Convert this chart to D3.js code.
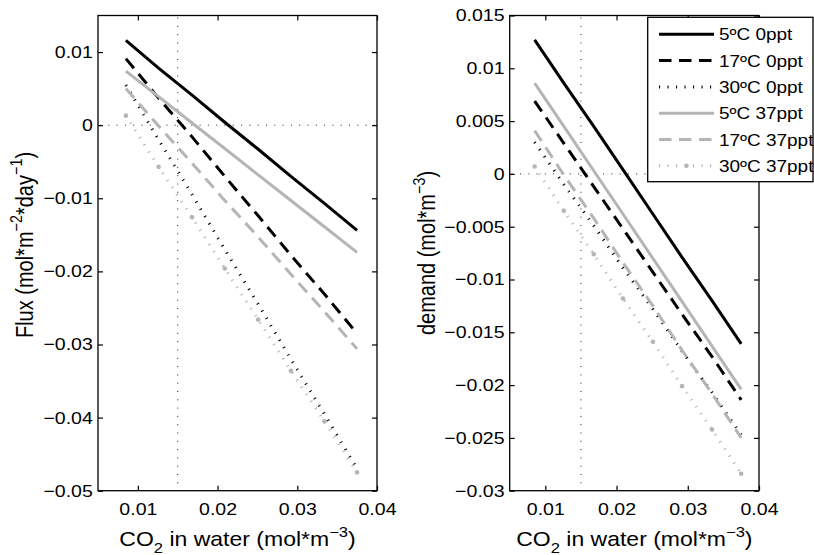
<!DOCTYPE html>
<html>
<head>
<meta charset="utf-8">
<script src="https://cdn.jsdelivr.net/npm/d3@7"></script>
<style>
  body { margin: 0; background: #fff; }
  text { font-family: "Liberation Sans", Arial, Helvetica, sans-serif; fill: #000; }
</style>
</head>
<body>
<svg id="chart" width="814" height="555"></svg>
<script>
// CO2 concentration in water (mol*m^-3) at which each case was evaluated
const co2Water = [0.0085, 0.0126, 0.0168, 0.0209, 0.0251, 0.0292, 0.0334, 0.0375];

const caseNames = ["5ºC 0ppt", "17ºC 0ppt", "30ºC 0ppt", "5ºC 37ppt", "17ºC 37ppt", "30ºC 37ppt"];

// Air-water CO2 flux (mol*m^-2*day^-1)
const flux5C0ppt   = [0.0116, 0.0078, 0.0041, 0.0004, -0.0033, -0.0070, -0.0107, -0.0144];
const flux17C0ppt  = [0.0091, 0.0037, -0.0016, -0.0070, -0.0124, -0.0178, -0.0231, -0.0285];
const flux30C0ppt  = [0.0055, -0.0020, -0.0095, -0.0170, -0.0245, -0.0320, -0.0395, -0.0470];
const flux5C37ppt  = [0.0074, 0.0039, 0.0003, -0.0032, -0.0068, -0.0103, -0.0139, -0.0174];
const flux17C37ppt = [0.0050, -0.0001, -0.0052, -0.0103, -0.0153, -0.0204, -0.0255, -0.0306];
const flux30C37ppt = [0.0013, -0.0057, -0.0126, -0.0196, -0.0266, -0.0336, -0.0405, -0.0475];

// CO2 demand (mol*m^-3)
const demand5C0ppt   = [0.0127, 0.0086, 0.0045, 0.0004, -0.0038, -0.0079, -0.0120, -0.0161];
const demand17C0ppt  = [0.0069, 0.0029, -0.0012, -0.0052, -0.0093, -0.0133, -0.0173, -0.0214];
const demand30C0ppt  = [0.0030, -0.0010, -0.0049, -0.0089, -0.0128, -0.0168, -0.0207, -0.0247];
const demand5C37ppt  = [0.0086, 0.0045, 0.0003, -0.0038, -0.0080, -0.0121, -0.0163, -0.0204];
const demand17C37ppt = [0.0041, -0.0001, -0.0042, -0.0084, -0.0125, -0.0167, -0.0208, -0.0250];
const demand30C37ppt = [0.0007, -0.0035, -0.0076, -0.0118, -0.0159, -0.0201, -0.0242, -0.0284];

const co2Ticks = [0.01, 0.02, 0.03, 0.04];
const fluxTicks = [-0.05, -0.04, -0.03, -0.02, -0.01, 0, 0.01];
const demandTicks = [-0.03, -0.025, -0.02, -0.015, -0.01, -0.005, 0, 0.005, 0.01, 0.015];
const co2Domain = [0.005, 0.04];
const fluxDomain = [-0.05, 0.015];
const demandDomain = [-0.03, 0.015];
const co2Reference = 0.015;   // vertical guide
const zeroReference = 0;      // horizontal guide

// line appearance per case
const GREY = "#b5b5b5";
const caseStyles = [
  { color: "#000", width: 3, dash: null, marker: false },
  { color: "#000", width: 3, dash: "12.5,7.5", marker: false },
  { color: "#000", width: 3, dash: "1.1,7.4", marker: false },
  { color: GREY, width: 3, dash: null, marker: false },
  { color: GREY, width: 3, dash: "12.5,7.5", marker: false },
  { color: GREY, width: 3, dash: "1.1,7.4", marker: true }
];

const SX = 1.15;          // horizontal text stretch
const TICK_FONT = 17;
const LEGEND_FONT = 16.5;
const LABEL_FONT = 20;
const fmt = d3.format("~g");

const svg = d3.select("#chart");
svg.append("rect").attr("width", 814).attr("height", 555).attr("fill", "#fff");

// text with super/subscript runs: parts = [[text, "sup"|"sub"|null], ...]
function addScriptText(sel, parts) {
  const SMALL = 0.72;
  let shift = 0; // current baseline offset in parent em
  parts.forEach(([t, kind]) => {
    const ts = sel.append("tspan").text(t);
    const target = kind === "sup" ? -0.45 : kind === "sub" ? 0.35 : 0;
    const size = kind ? SMALL : 1;
    ts.attr("dy", ((target - shift) / size) + "em");
    if (kind) ts.attr("font-size", SMALL + "em");
    shift = target;
  });
}

function drawPanel(cfg) {
  const x = d3.scaleLinear().domain(co2Domain).range([cfg.x0, cfg.x1]);
  const y = d3.scaleLinear().domain(cfg.yDomain).range([cfg.y1, cfg.y0]);
  const g = svg.append("g");

  // dotted guides
  const guide = g.append("g").attr("stroke", "#222").attr("stroke-width", 1)
    .attr("stroke-dasharray", "1,7.3").attr("fill", "none");
  guide.append("line")
    .attr("x1", x(co2Reference)).attr("x2", x(co2Reference))
    .attr("y1", cfg.y0 + 2).attr("y2", cfg.y1);
  guide.append("line")
    .attr("x1", cfg.x0 + 2).attr("x2", cfg.x1)
    .attr("y1", y(zeroReference)).attr("y2", y(zeroReference));

  const line = d3.line().x((d, i) => x(co2Water[i])).y(d => y(d));
  cfg.series.forEach((vals, k) => {
    const st = caseStyles[k];
    g.append("path")
      .attr("d", line(vals))
      .attr("fill", "none")
      .attr("stroke", st.color)
      .attr("stroke-width", st.width)
      .attr("stroke-dasharray", st.dash);
    if (st.marker) {
      g.selectAll(null).data(vals).enter().append("circle")
        .attr("cx", (d, i) => x(co2Water[i]))
        .attr("cy", d => y(d))
        .attr("r", 2.3)
        .attr("fill", st.color);
    }
  });

  // axes with inward ticks on all four sides
  const bottom = g.append("g").attr("transform", `translate(0,${cfg.y1})`)
    .call(d3.axisBottom(x).tickValues(co2Ticks).tickSizeInner(-5).tickSizeOuter(0)
      .tickPadding(12).tickFormat(fmt));
  const top = g.append("g").attr("transform", `translate(0,${cfg.y0})`)
    .call(d3.axisTop(x).tickValues(co2Ticks).tickSizeInner(-5).tickSizeOuter(0).tickFormat(""));
  const left = g.append("g").attr("transform", `translate(${cfg.x0},0)`)
    .call(d3.axisLeft(y).tickValues(cfg.yTicks).tickSizeInner(-5).tickSizeOuter(0)
      .tickPadding(4.5).tickFormat(fmt));
  const right = g.append("g").attr("transform", `translate(${cfg.x1},0)`)
    .call(d3.axisRight(y).tickValues(cfg.yTicks).tickSizeInner(-5).tickSizeOuter(0).tickFormat(""));

  [bottom, top, left, right].forEach(a => {
    a.select(".domain").remove();
    a.selectAll("line").attr("stroke", "#000").attr("stroke-width", 1.2);
    a.selectAll("text")
      .attr("font-size", TICK_FONT)
      .attr("font-family", "'Liberation Sans', Arial, Helvetica, sans-serif")
      .attr("fill", "#000");
  });
  bottom.selectAll("text").attr("transform", `scale(${SX},1)`);
  left.selectAll("text").attr("transform", `scale(${SX},1)`);

  // axes box
  g.append("rect")
    .attr("x", cfg.x0).attr("y", cfg.y0)
    .attr("width", cfg.x1 - cfg.x0).attr("height", cfg.y1 - cfg.y0)
    .attr("fill", "none").attr("stroke", "#000").attr("stroke-width", 1.3);

  // x label
  const xl = g.append("text")
    .attr("transform", `translate(${(cfg.x0 + cfg.x1) / 2},545.5) scale(${SX},1)`)
    .attr("text-anchor", "middle").attr("font-size", LABEL_FONT);
  addScriptText(xl, [["CO", null], ["2", "sub"], [" in water (mol*m", null], ["−3", "sup"], [")", null]]);

  // y label
  const yl = g.append("text")
    .attr("transform", `translate(${cfg.yLabelX},${cfg.yLabelY}) scale(${SX},1) rotate(-90)`)
    .attr("text-anchor", "middle").attr("font-size", LABEL_FONT);
  addScriptText(yl, cfg.yLabel);
}

drawPanel({
  x0: 98, x1: 377, y0: 15.5, y1: 490.7,
  yDomain: fluxDomain, yTicks: fluxTicks,
  series: [flux5C0ppt, flux17C0ppt, flux30C0ppt, flux5C37ppt, flux17C37ppt, flux30C37ppt],
  yLabelX: 32.5, yLabelY: 245,
  yLabel: [["Flux (mol*m", null], ["−2", "sup"], ["*day", null], ["−1", "sup"], [")", null]]
});

drawPanel({
  x0: 509.7, x1: 759, y0: 15.5, y1: 490.7,
  yDomain: demandDomain, yTicks: demandTicks,
  series: [demand5C0ppt, demand17C0ppt, demand30C0ppt, demand5C37ppt, demand17C37ppt, demand30C37ppt],
  yLabelX: 435, yLabelY: 253,
  yLabel: [["demand (mol*m", null], ["−3", "sup"], [")", null]]
});

// legend
const lg = svg.append("g");
lg.append("rect")
  .attr("x", 647.7).attr("y", 17.3).attr("width", 165.3).attr("height", 164.4)
  .attr("fill", "#fff").attr("stroke", "#000").attr("stroke-width", 1.3);
caseNames.forEach((name, k) => {
  const st = caseStyles[k];
  const cy = 34.3 + k * 26.3;
  lg.append("line")
    .attr("x1", 659).attr("x2", 714).attr("y1", cy).attr("y2", cy)
    .attr("stroke", st.color).attr("stroke-width", st.width)
    .attr("stroke-dasharray", st.dash);
  if (st.marker) {
    lg.append("circle").attr("cx", 686.5).attr("cy", cy).attr("r", 2.3).attr("fill", st.color);
  }
  lg.append("text")
    .attr("transform", `translate(719,${cy + 6}) scale(${SX},1)`)
    .attr("font-size", LEGEND_FONT)
    .text(name);
});
</script>
</body>
</html>
